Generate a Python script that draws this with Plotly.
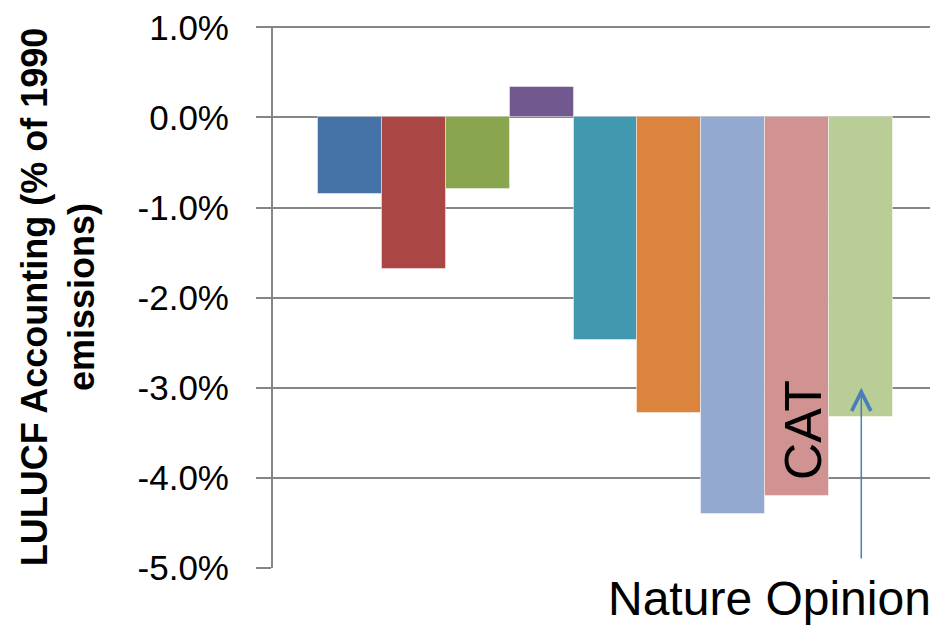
import plotly.graph_objects as go

# ---- data ----
series = ["S1", "S2", "S3", "S4", "S5", "S6", "S7", "S8", "S9"]
values = [-0.85, -1.68, -0.79, 0.34, -2.47, -3.28, -4.40, -4.20, -3.32]
colors = ["#4572A7", "#AA4643", "#89A54E", "#71588F", "#4198AF",
          "#DB843D", "#93A9CF", "#D19392", "#B9CD96"]
tick_vals = [1, 0, -1, -2, -3, -4, -5]
tick_text = ["1.0%", "0.0%", "-1.0%", "-2.0%", "-3.0%", "-4.0%", "-5.0%"]

GRID = "#868686"
FONT = "Liberation Sans"

fig = go.Figure()
fig.add_trace(go.Bar(
    x=series, y=values,
    marker=dict(color=colors, line=dict(color="rgba(255,255,255,0.45)", width=1)),
    width=1.0, showlegend=False,
))

fig.update_layout(
    width=930, height=618,
    margin=dict(l=265, r=0, t=16, b=58),
    paper_bgcolor="white", plot_bgcolor="white",
    bargap=0,
    xaxis=dict(
        type="category", range=[-1.2, 9.2],
        showticklabels=False, showgrid=False, zeroline=False, showline=False,
        ticks="",
    ),
    yaxis=dict(
        range=[-5, 1.015], tickvals=tick_vals, ticktext=tick_text,
        showgrid=True, gridcolor=GRID, gridwidth=2,
        zeroline=False,
        showline=True, linecolor=GRID, linewidth=2,
        ticks="outside", ticklen=15, tickcolor=GRID, tickwidth=2,
        ticklabelstandoff=20, ticklabeloverflow="allow",
        tickfont=dict(family=FONT, size=35, color="#000000"),
        title=dict(
            text="LULUCF Accounting (% of 1990<br>emissions)",
            font=dict(family=FONT, size=36, color="#000000", weight="bold"),
            standoff=32,
        ),
    ),
)

fig.add_annotation(
    x=7.09, y=-3.47, xref="x", yref="y",
    text="CAT", textangle=-90, showarrow=False,
    font=dict(family=FONT, size=52, color="#000000"),
)
fig.add_annotation(
    x=(769 - 273) / 665, y=-0.057, xref="paper", yref="paper",
    xanchor="center", yanchor="middle",
    text="Nature Opinion", showarrow=False,
    font=dict(family=FONT, size=48, color="#000000"),
)

fig.add_annotation(
    x=8, y=-3.0, xref="x", yref="y",
    ax=8, ay=-4.91, axref="x", ayref="y",
    text="", showarrow=True,
    arrowhead=5, arrowwidth=1.5, arrowsize=2.5, arrowcolor="#4A7EBB",
)

fig.write_html("out.html")
